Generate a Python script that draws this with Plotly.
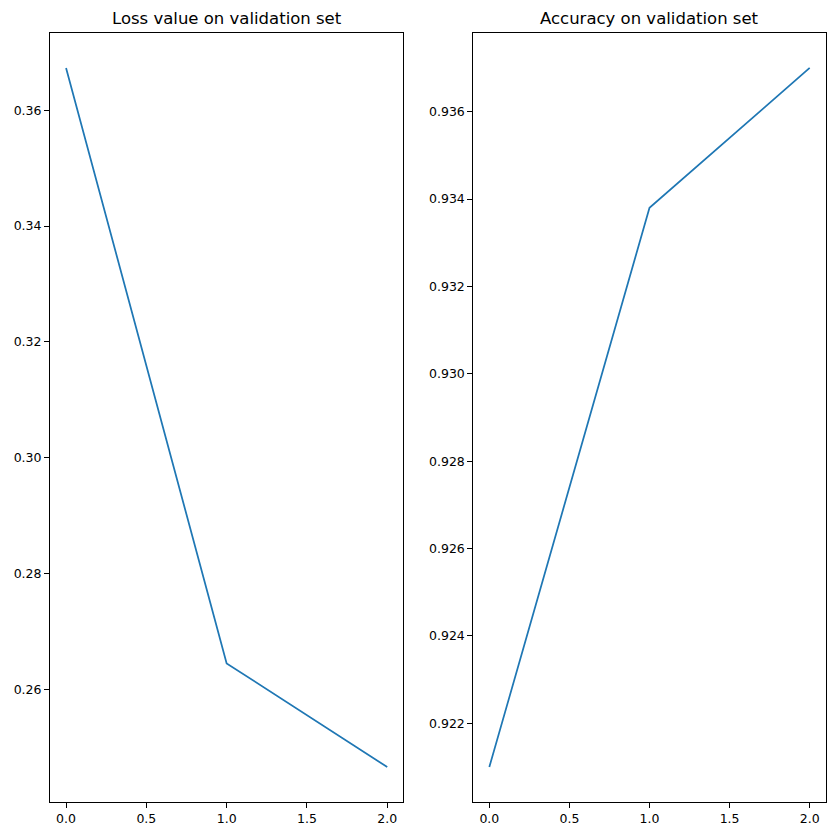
import plotly.graph_objects as go

epochs = [0, 1, 2]
val_loss = [0.3673, 0.2645, 0.2466]
val_acc = [0.9210, 0.9338, 0.9370]

loss_ticks = [0.26, 0.28, 0.30, 0.32, 0.34, 0.36]
acc_ticks = [0.922, 0.924, 0.926, 0.928, 0.930, 0.932, 0.934, 0.936]
x_ticks = [0.0, 0.5, 1.0, 1.5, 2.0]

W, H = 835, 836
fig = go.Figure()
fig.add_trace(go.Scatter(x=epochs, y=val_loss, mode="lines",
                         line=dict(color="#1f77b4", width=1.75),
                         xaxis="x", yaxis="y", showlegend=False))
fig.add_trace(go.Scatter(x=epochs, y=val_acc, mode="lines",
                         line=dict(color="#1f77b4", width=1.75),
                         xaxis="x2", yaxis="y2", showlegend=False))

ax_common = dict(showgrid=False, zeroline=False, showline=True, linecolor="black",
                 linewidth=1, mirror=True, ticks="outside", ticklen=5, tickwidth=1,
                 tickcolor="black", tickfont=dict(family="DejaVu Sans", size=12.5, color="black"))

top = 1 - 33 / H
bottom = 1 - 802 / H

def rng(vals):
    lo, hi = min(vals), max(vals)
    m = (hi - lo) * 0.05
    return [lo - m, hi + m]

fig.update_layout(
    width=W, height=H, margin=dict(l=0, r=0, t=0, b=0),
    plot_bgcolor="white", paper_bgcolor="white",
    xaxis=dict(domain=[50 / W, 403.3 / W], range=rng(epochs), tickvals=x_ticks,
               ticktext=[f"{v:.1f}" for v in x_ticks], anchor="y", **ax_common),
    yaxis=dict(domain=[bottom, top], range=rng(val_loss), tickvals=loss_ticks,
               ticktext=[f"{v:.2f}" for v in loss_ticks], anchor="x", **ax_common),
    xaxis2=dict(domain=[473.3 / W, 825.7 / W], range=rng(epochs), tickvals=x_ticks,
                ticktext=[f"{v:.1f}" for v in x_ticks], anchor="y2", **ax_common),
    yaxis2=dict(domain=[bottom, top], range=rng(val_acc), tickvals=acc_ticks,
                ticktext=[f"{v:.3f}" for v in acc_ticks], anchor="x2", **ax_common),
    annotations=[
        dict(text="Loss value on validation set", xref="paper", yref="paper",
             x=(50 + 403.3) / 2 / W, y=top, yshift=3, xanchor="center", yanchor="bottom",
             showarrow=False, font=dict(family="DejaVu Sans", size=16.5, color="black")),
        dict(text="Accuracy on validation set", xref="paper", yref="paper",
             x=(473.3 + 825.7) / 2 / W, y=top, yshift=3, xanchor="center", yanchor="bottom",
             showarrow=False, font=dict(family="DejaVu Sans", size=16.5, color="black")),
    ],
)

fig.write_html("out.html")
